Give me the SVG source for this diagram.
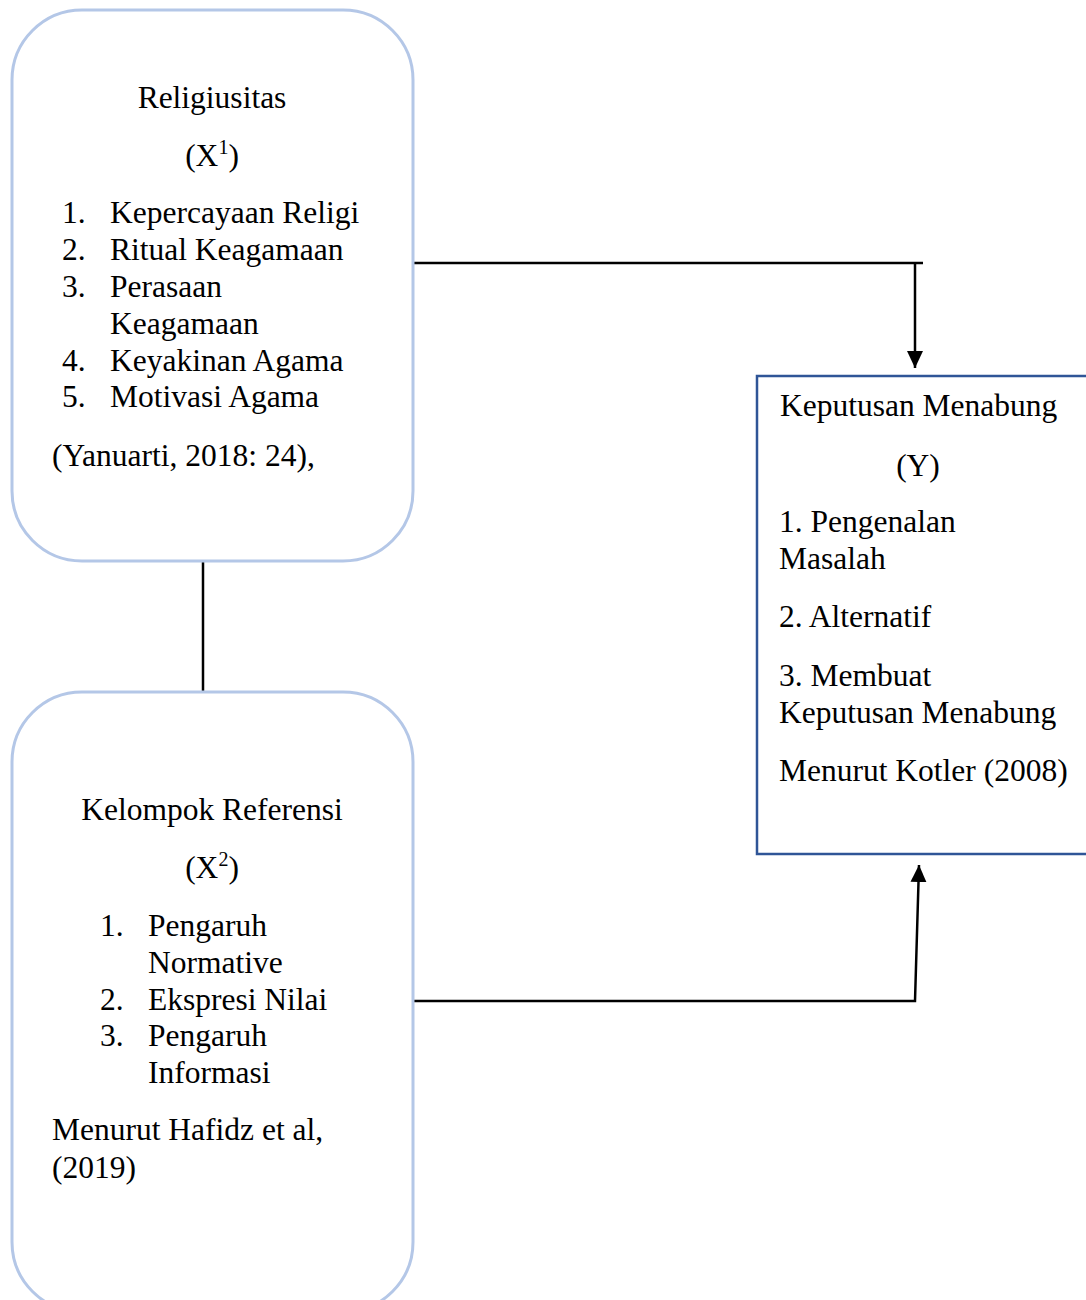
<svg xmlns="http://www.w3.org/2000/svg" width="1086" height="1300" viewBox="0 0 1086 1300">
<style>
text{font-family:"Liberation Serif","Times New Roman",serif;font-size:31.5px;fill:#000}
.c{text-anchor:middle}
.sup{font-size:20px}
.rbox{fill:#fff;stroke:#B4C7E7;stroke-width:3}
.sbox{fill:#fff;stroke:#2F5597;stroke-width:2.5}
.ln{fill:none;stroke:#000;stroke-width:2.5}
</style>
<defs>
<marker id="ah" markerUnits="userSpaceOnUse" markerWidth="18" markerHeight="18" refX="17" refY="8" orient="auto">
<path d="M0,0 L17,8 L0,16 Z" fill="#000"/>
</marker>
</defs>
<rect width="1086" height="1300" fill="#fff"/>
<g id="connectors">
<path class="ln" d="M414,263 H923"/>
<path class="ln" d="M915,263 V368" marker-end="url(#ah)"/>
<path class="ln" d="M414,1001 H915 L919,865" marker-end="url(#ah)"/>
<path class="ln" d="M203,561 V692"/>
</g>
<g id="religiusitas">
<rect class="rbox" x="12" y="10" width="401" height="551" rx="70" ry="70"/>
<text class="c" x="212" y="108">Religiusitas</text>
<text class="c" x="212" y="166">(X<tspan class="sup" dy="-12">1</tspan><tspan dy="12">)</tspan></text>
<text x="62" y="223">1.</text><text x="110" y="223">Kepercayaan Religi</text>
<text x="62" y="260">2.</text><text x="110" y="260">Ritual Keagamaan</text>
<text x="62" y="297">3.</text><text x="110" y="297">Perasaan</text>
<text x="110" y="334">Keagamaan</text>
<text x="62" y="371">4.</text><text x="110" y="371">Keyakinan Agama</text>
<text x="62" y="407">5.</text><text x="110" y="407">Motivasi Agama</text>
<text x="52" y="466">(Yanuarti, 2018: 24),</text>
</g>
<g id="kelompok">
<rect class="rbox" x="12" y="692" width="401" height="620" rx="70" ry="70"/>
<text class="c" x="212" y="820">Kelompok Referensi</text>
<text class="c" x="212" y="878">(X<tspan class="sup" dy="-12">2</tspan><tspan dy="12">)</tspan></text>
<text x="100" y="936">1.</text><text x="148" y="936">Pengaruh</text>
<text x="148" y="973">Normative</text>
<text x="100" y="1010">2.</text><text x="148" y="1010">Ekspresi Nilai</text>
<text x="100" y="1046">3.</text><text x="148" y="1046">Pengaruh</text>
<text x="148" y="1083">Informasi</text>
<text x="52" y="1140">Menurut Hafidz et al,</text>
<text x="52" y="1178">(2019)</text>
</g>
<g id="keputusan">
<rect class="sbox" x="757" y="376" width="345" height="478"/>
<text x="780" y="416">Keputusan Menabung</text>
<text class="c" x="918" y="476">(Y)</text>
<text x="779" y="532">1. Pengenalan</text>
<text x="779" y="569">Masalah</text>
<text x="779" y="627">2. Alternatif</text>
<text x="779" y="686">3. Membuat</text>
<text x="779" y="723">Keputusan Menabung</text>
<text x="779" y="781">Menurut Kotler (2008)</text>
</g>
</svg>
